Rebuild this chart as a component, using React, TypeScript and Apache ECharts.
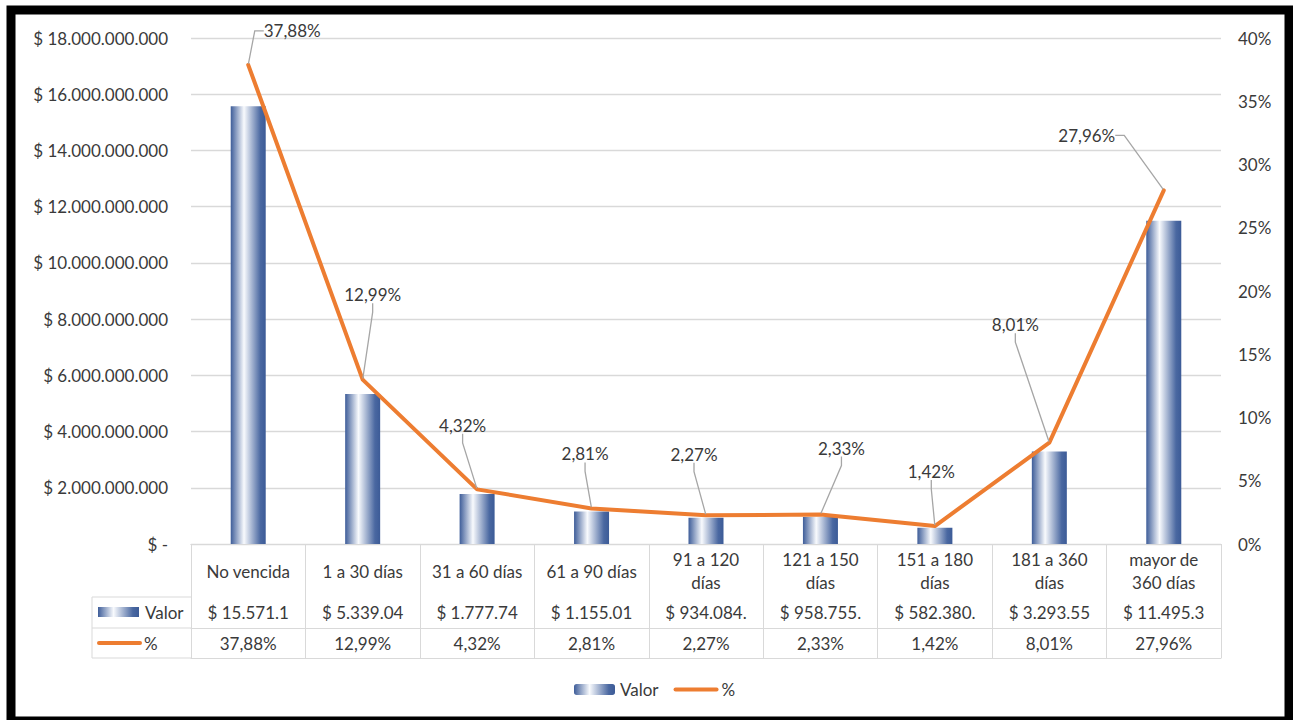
import React, { useEffect, useRef } from 'react';
import * as echarts from 'echarts';

const categories = [
  'No vencida',
  '1 a 30 días',
  '31 a 60 días',
  '61 a 90 días',
  '91 a 120\ndías',
  '121 a 150\ndías',
  '151 a 180\ndías',
  '181 a 360\ndías',
  'mayor de\n360 días',
];
const valores = [
  15571100000, 5339040000, 1777740000, 1155010000, 934084000, 958755000, 582380000, 3293550000, 11495300000,
];
const porcentajes = [37.88, 12.99, 4.32, 2.81, 2.27, 2.33, 1.42, 8.01, 27.96];

const valorName = 'Valor';
const pctName = '%';

const valorAxisMax = 18000000000;
const valorAxisStep = 2000000000;
const pctAxisMax = 40;
const pctAxisStep = 5;

// label offsets (dx, dy) relative to each point, in px
const labelOffsets = [
  [44, -34],
  [10, -85],
  [-14.5, -64],
  [-6.5, -54.5],
  [-12, -61],
  [21, -66.5],
  [-3.6, -54.5],
  [-34, -118],
  [-77, -55],
];

const FONT = 'Lato, sans-serif';
const TXT = '#3A3A3A';
const GRID = '#D9D9D9';
const ORANGE = '#ED7D31';

const miles = (v: number) => String(Math.round(v)).replace(/\B(?=(\d{3})+(?!\d))/g, '.');
const pctText = (v: number) => v.toFixed(2).replace('.', ',') + '%';

const barGradient = () => ({
  type: 'linear',
  x: 0,
  y: 0,
  x2: 1,
  y2: 0,
  colorStops: [
    { offset: 0, color: '#3E5D99' },
    { offset: 0.38, color: '#F8FAFD' },
    { offset: 0.85, color: '#4A68A1' },
    { offset: 1, color: '#3C5B97' },
  ],
});

export default function App() {
  const ref = useRef<HTMLDivElement>(null);
  useEffect(() => {
    if (!ref.current) return;
    const chart = echarts.init(ref.current, null, { renderer: 'svg' });
    const gridLeft = 191;
    const gridRight = 1221;
    const axisY = 544;
    const option: any = {
      animation: false,
      backgroundColor: '#fff',
      textStyle: { fontFamily: FONT },
      grid: { left: gridLeft, right: 1293 - gridRight, top: 38, bottom: 720 - axisY },
      legend: {
        top: 676,
        left: 569,
        itemWidth: 41,
        itemHeight: 11,
        itemGap: 15,
        textStyle: { fontFamily: FONT, fontSize: 17, color: TXT },
        data: [
          valorName,
          { name: pctName, itemStyle: { opacity: 0 }, lineStyle: { width: 4, cap: 'round', color: ORANGE } },
        ],
      },
      xAxis: [
        {
          type: 'category',
          data: categories,
          position: 'bottom',
          axisLine: { show: true, lineStyle: { color: GRID, width: 1 } },
          axisTick: { show: true, length: 114, lineStyle: { color: GRID, width: 1 } },
          axisLabel: {
            interval: 0,
            margin: 27,
            verticalAlign: 'middle',
            lineHeight: 23,
            fontSize: 17,
            color: TXT,
            fontFamily: FONT,
          },
        },
        {
          type: 'category',
          data: valores.map((v) => ('$ ' + miles(v)).slice(0, 10)),
          position: 'bottom',
          offset: 53,
          axisLine: { show: true, lineStyle: { color: GRID, width: 1 } },
          axisTick: { show: false },
          axisLabel: {
            interval: 0,
            margin: 15.5,
            verticalAlign: 'middle',
            fontSize: 17,
            color: TXT,
            fontFamily: FONT,
          },
        },
        {
          type: 'category',
          data: porcentajes.map(pctText),
          position: 'bottom',
          offset: 84,
          axisLine: { show: true, lineStyle: { color: GRID, width: 1 } },
          axisTick: { show: false },
          axisLabel: {
            interval: 0,
            margin: 15.5,
            verticalAlign: 'middle',
            fontSize: 17,
            color: TXT,
            fontFamily: FONT,
          },
        },
        {
          type: 'category',
          data: categories,
          position: 'bottom',
          offset: 114,
          axisLine: { show: true, lineStyle: { color: GRID, width: 1 } },
          axisTick: { show: false },
          axisLabel: { show: false },
        },
      ],
      yAxis: [
        {
          type: 'value',
          min: 0,
          max: valorAxisMax,
          interval: valorAxisStep,
          axisLine: { show: false },
          axisTick: { show: false },
          splitLine: { show: true, lineStyle: { color: GRID, width: 1.3 } },
          axisLabel: {
            margin: 23,
            fontSize: 17,
            color: TXT,
            fontFamily: FONT,
            formatter: (v: number) => (v === 0 ? '$ -' : '$ ' + miles(v)),
          },
        },
        {
          type: 'value',
          min: 0,
          max: pctAxisMax,
          interval: pctAxisStep,
          position: 'right',
          axisLine: { show: false },
          axisTick: { show: false },
          splitLine: { show: false },
          axisLabel: {
            margin: 17,
            fontSize: 17,
            color: TXT,
            fontFamily: FONT,
            formatter: (v: number) => v + '%',
          },
        },
      ],
      series: [
        {
          name: valorName,
          type: 'bar',
          xAxisIndex: 0,
          yAxisIndex: 0,
          barWidth: 35,
          data: valores,
          itemStyle: { color: barGradient() },
        },
        {
          name: pctName,
          type: 'line',
          xAxisIndex: 0,
          yAxisIndex: 1,
          data: porcentajes,
          symbol: 'circle',
          symbolSize: 2,
          showSymbol: true,
          itemStyle: { color: ORANGE },
          lineStyle: { color: ORANGE, width: 4, cap: 'round', join: 'round' },
          label: {
            show: true,
            position: 'inside',
            fontSize: 17,
            fontFamily: FONT,
            color: TXT,
            padding: [3, 4],
            formatter: (p: any) => pctText(p.value),
          },
          labelLine: {
            show: true,
            length2: 9,
            lineStyle: { color: '#A6A6A6', width: 1.3 },
          },
          labelLayout: (p: any) => ({
            dx: labelOffsets[p.dataIndex][0],
            dy: labelOffsets[p.dataIndex][1],
          }),
          z: 5,
        },
      ],
      graphic: [
        {
          type: 'group',
          children: [
            { type: 'line', shape: { x1: 92, y1: 597, x2: gridLeft, y2: 597 }, style: { stroke: GRID, lineWidth: 1 } },
            { type: 'line', shape: { x1: 92, y1: 628, x2: gridLeft, y2: 628 }, style: { stroke: GRID, lineWidth: 1 } },
            { type: 'line', shape: { x1: 92, y1: 658, x2: gridLeft, y2: 658 }, style: { stroke: GRID, lineWidth: 1 } },
            { type: 'line', shape: { x1: 92, y1: 597, x2: 92, y2: 658 }, style: { stroke: GRID, lineWidth: 1 } },
            {
              type: 'rect',
              shape: { x: 98, y: 607, width: 41, height: 10 },
              style: { fill: barGradient() },
            },
            {
              type: 'line',
              shape: { x1: 99, y1: 643, x2: 140, y2: 643 },
              style: { stroke: ORANGE, lineWidth: 4, lineCap: 'round' },
            },
            {
              type: 'text',
              x: 145,
              y: 612,
              style: { text: valorName, fill: TXT, font: `17px ${FONT}`, textVerticalAlign: 'middle' },
            },
            {
              type: 'text',
              x: 144,
              y: 643,
              style: { text: pctName, fill: TXT, font: `17px ${FONT}`, textVerticalAlign: 'middle' },
            },
          ],
        },
        {
          type: 'rect',
          shape: { x: 11, y: 10, width: 1278, height: 711 },
          style: { fill: 'none', stroke: '#000', lineWidth: 9 },
          z: 100,
        },
      ],
    };
    chart.setOption(option);
    return () => chart.dispose();
  }, []);
  return (
    <div
      ref={ref}
      style={{ position: 'fixed', left: 0, top: 0, width: 1293, height: 720, background: '#fff' }}
    />
  );
}
